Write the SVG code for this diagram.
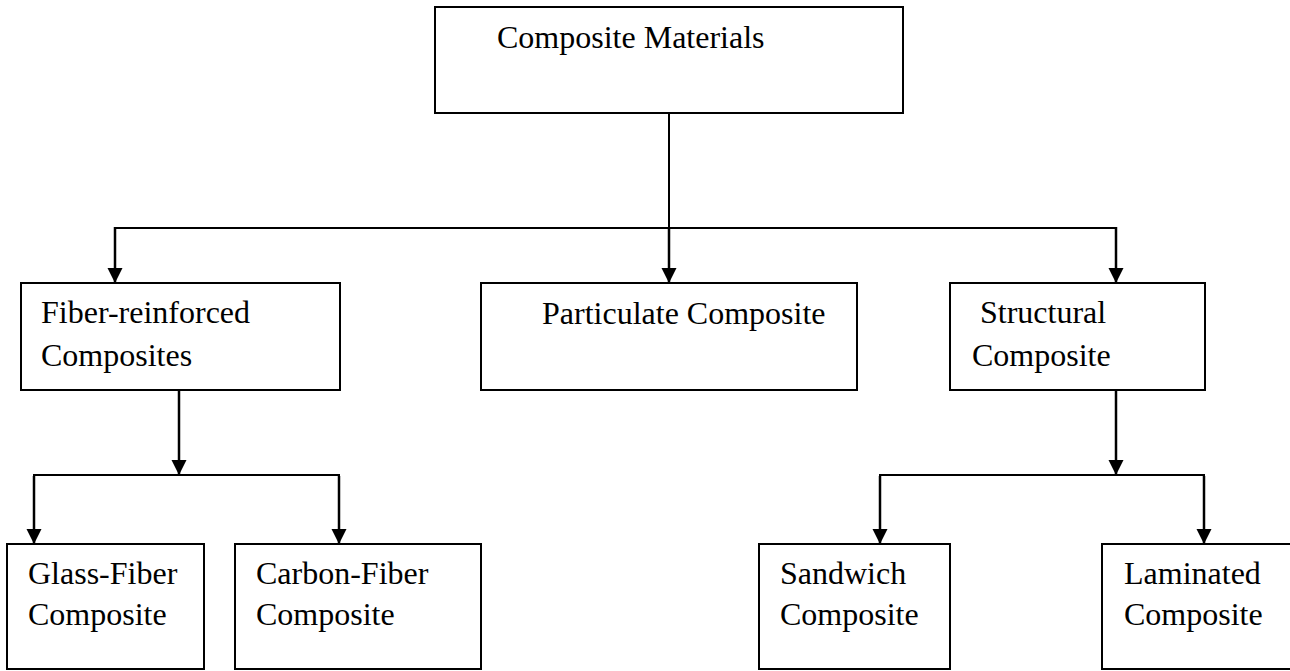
<svg xmlns="http://www.w3.org/2000/svg" width="1290" height="671" viewBox="0 0 1290 671">
  <style>
    .box { fill: #ffffff; stroke: #000000; stroke-width: 2; }
    .lbl { font-family: "Liberation Serif", "Times New Roman", serif; font-size: 32px; fill: #000000; }
    .wire { fill: none; stroke: #000000; stroke-width: 2; }
    .arrow { fill: none; stroke: #000000; stroke-width: 2.5; marker-end: url(#head); }
  </style>
  <defs>
    <marker id="head" markerUnits="userSpaceOnUse" markerWidth="16" markerHeight="16" viewBox="0 0 16 16" refX="15" refY="8" orient="auto">
      <path d="M0,0.5 L15,8 L0,15.5 Z" fill="#000000"/>
    </marker>
  </defs>
  <rect width="1290" height="671" fill="#ffffff"/>

  <!-- connectors -->
  <g id="connectors">
    <!-- root to first level -->
    <line class="wire" x1="669" y1="113" x2="669" y2="228"/>
    <line class="wire" x1="115" y1="228" x2="1116" y2="228"/>
    <line class="arrow" x1="115" y1="227" x2="115" y2="283"/>
    <line class="arrow" x1="669" y1="228" x2="669" y2="283"/>
    <line class="arrow" x1="1116" y1="227" x2="1116" y2="283"/>
    <!-- fiber-reinforced branch -->
    <line class="arrow" x1="179" y1="390" x2="179" y2="475"/>
    <polyline class="wire" points="34,544 34,475 339,475 339,544"/>
    <line class="arrow" x1="34" y1="476" x2="34" y2="544"/>
    <line class="arrow" x1="339" y1="476" x2="339" y2="544"/>
    <!-- structural branch -->
    <line class="arrow" x1="1116" y1="390" x2="1116" y2="475"/>
    <polyline class="wire" points="880,544 880,475 1204,475 1204,544"/>
    <line class="arrow" x1="880" y1="476" x2="880" y2="544"/>
    <line class="arrow" x1="1204" y1="476" x2="1204" y2="544"/>
  </g>

  <g id="root">
    <rect class="box" x="435" y="7" width="468" height="106"/>
    <text class="lbl" x="497" y="48">Composite Materials</text>
  </g>

  <g id="fiber">
    <rect class="box" x="21" y="283" width="319" height="107"/>
    <text class="lbl" x="41" y="323">Fiber-reinforced</text>
    <text class="lbl" x="41" y="366">Composites</text>
  </g>

  <g id="particulate">
    <rect class="box" x="481" y="283" width="376" height="107"/>
    <text class="lbl" x="542" y="324">Particulate Composite</text>
  </g>

  <g id="structural">
    <rect class="box" x="950" y="283" width="255" height="107"/>
    <text class="lbl" x="980" y="323">Structural</text>
    <text class="lbl" x="972" y="366">Composite</text>
  </g>

  <g id="glass">
    <rect class="box" x="7" y="544" width="197" height="125"/>
    <text class="lbl" x="28" y="584">Glass-Fiber</text>
    <text class="lbl" x="28" y="625">Composite</text>
  </g>

  <g id="carbon">
    <rect class="box" x="235" y="544" width="246" height="125"/>
    <text class="lbl" x="256" y="584">Carbon-Fiber</text>
    <text class="lbl" x="256" y="625">Composite</text>
  </g>

  <g id="sandwich">
    <rect class="box" x="759" y="544" width="191" height="125"/>
    <text class="lbl" x="780" y="584">Sandwich</text>
    <text class="lbl" x="780" y="625">Composite</text>
  </g>

  <g id="laminated">
    <rect class="box" x="1102" y="544" width="200" height="125"/>
    <text class="lbl" x="1124" y="584">Laminated</text>
    <text class="lbl" x="1124" y="625">Composite</text>
  </g>
</svg>
